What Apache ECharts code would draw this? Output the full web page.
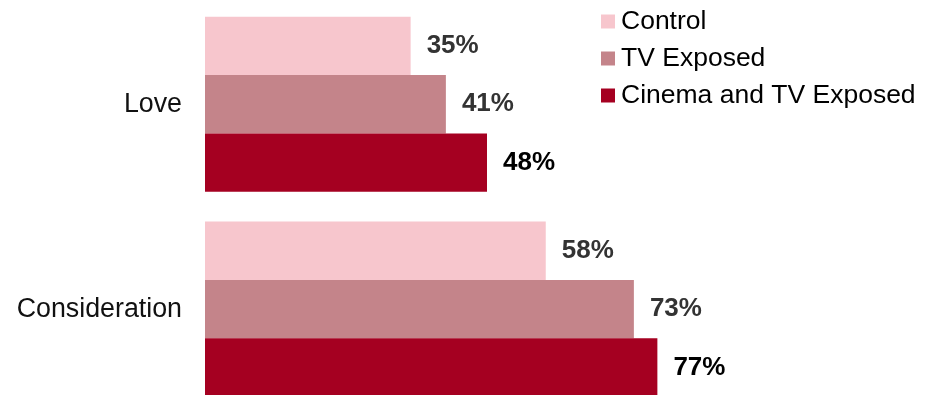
<!DOCTYPE html>
<html><head><meta charset="utf-8">
<script src="https://cdn.jsdelivr.net/npm/echarts@6/dist/echarts.min.js"></script>
<style>html,body{margin:0;padding:0;background:#fff;overflow:hidden}#c{width:930px;height:412px}</style>
</head><body><div id="c"></div>
<script>
const categories = ["Love", "Consideration"];
const seriesNames = ["Control", "TV Exposed", "Cinema and TV Exposed"];
const control = [35, 58];
const tvExposed = [41, 73];
const cinemaTv = [48, 77];

const colors = ["#F7C6CD", "#C4848A", "#A50021"];
const labelColors = ["#333333", "#333333", "#000000"];
const values = [control, tvExposed, cinemaTv];
const FONT = "Liberation Sans, Arial, sans-serif";

const chart = echarts.init(document.getElementById('c'), null, {renderer: 'canvas'});
chart.setOption({
  animation: false,
  textStyle: {fontFamily: FONT},
  legend: {
    orient: 'vertical', left: 601, top: 8, padding: 0,
    itemWidth: 14, itemHeight: 14, itemGap: 10, icon: 'rect',
    textStyle: {fontSize: 26.5, color: '#000', fontFamily: FONT, padding: [0, 0, 0, 1]},
    itemStyle: {borderWidth: 0},
    data: seriesNames
  },
  grid: {left: 205, top: 1.8, width: 587.5, height: 409.8, containLabel: false},
  xAxis: {type: 'value', min: 0, max: 100, show: false},
  yAxis: {
    type: 'category', data: categories, inverse: true,
    axisLine: {show: false}, axisTick: {show: false},
    axisLabel: {fontSize: 26.8, color: '#111', margin: 23, fontFamily: FONT}
  },
  series: seriesNames.map((n, i) => ({
    name: n, type: 'bar', data: values[i],
    barWidth: 58.4, barGap: '0%',
    itemStyle: {color: colors[i]},
    label: {show: true, position: 'right', distance: 16, formatter: '{c}%',
      fontSize: 26, fontWeight: 'bold', color: labelColors[i], fontFamily: FONT}
  }))
});
</script></body></html>
